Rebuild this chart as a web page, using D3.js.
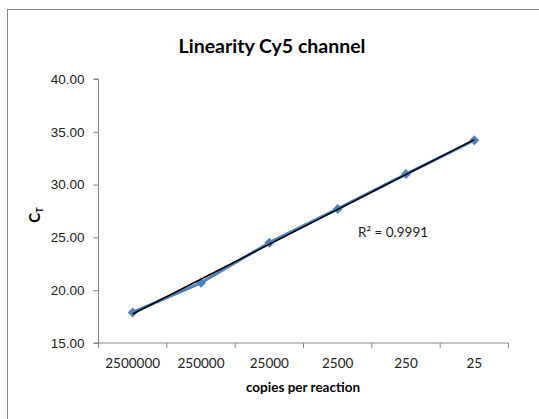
<!DOCTYPE html>
<html><head><meta charset="utf-8">
<script src="https://cdn.jsdelivr.net/npm/d3@7"></script>
<style>body{margin:0;background:#fff;} svg{display:block;font-family:Lato,"Open Sans",sans-serif;}</style>
</head><body>
<script>
const categories = ["2500000","250000","25000","2500","250","25"];
const ctValues = [17.9, 20.7, 24.5, 27.7, 31.0, 34.2];
const yTicks = [15, 20, 25, 30, 35, 40];
const r2Label = "R² = 0.9991";
const titleText = "Linearity Cy5 channel";
const xTitle = "copies per reaction";

(function(){
const W = 539, H = 419;
const svg = d3.select("body").append("svg").attr("width", W).attr("height", H);

svg.append("rect").attr("x", 7.5).attr("y", 9.5).attr("width", 600).attr("height", 500)
  .attr("fill", "#fff").attr("stroke", "#868686").attr("stroke-width", 1);

const pL = 98.5, pR = 508.5, pT = 79, pB = 343;
const x = d3.scaleBand().domain(categories).range([pL, pR]).padding(0);
const y = d3.scaleLinear().domain([15, 40]).range([pB, pT]);

// y axis
const yAxis = d3.axisLeft(y).tickValues(yTicks).tickSize(5).tickFormat(d3.format(".2f"));
const gy = svg.append("g").attr("transform", `translate(${pL},0)`).call(yAxis);
gy.select(".domain").attr("stroke", "#868686").attr("d", `M-5,${pT}H0V${pB}H-5`);
gy.selectAll(".tick line").attr("stroke", "#868686");
gy.selectAll(".tick text").attr("font-size", 13.5).attr("fill", "#222").attr("x", -14);

// x axis
const gx = svg.append("g").attr("transform", `translate(0,${pB})`);
gx.append("line").attr("x1", pL).attr("x2", pR).attr("stroke", "#868686");
const edges = categories.map(c => x(c)).concat([x(categories[categories.length-1]) + x.bandwidth()]);
gx.selectAll("line.tk").data(edges).join("line").attr("class","tk")
  .attr("x1", d => d).attr("x2", d => d).attr("y1", 0).attr("y2", 5).attr("stroke", "#868686");
gx.selectAll("text").data(categories).join("text")
  .attr("x", d => x(d) + x.bandwidth()/2).attr("y", 25)
  .attr("text-anchor", "middle").attr("font-size", 13.5).attr("fill", "#222").text(d => d);

// series line
const cx = i => x(categories[i]) + x.bandwidth()/2;
const line = d3.line().x((d,i) => cx(i)).y(d => y(d));
svg.append("path").datum(ctValues).attr("d", line).attr("fill", "none")
  .attr("stroke", "#4F81BD").attr("stroke-width", 3).attr("stroke-linejoin", "round");
svg.selectAll("path.mk").data(ctValues).join("path").attr("class","mk")
  .attr("transform", (d,i) => `translate(${cx(i)},${y(d)}) rotate(45)`)
  .attr("d", d3.symbol().type(d3.symbolSquare).size(50)).attr("fill", "#4F81BD");

// linear trendline (least squares on category index)
const n = ctValues.length;
const xs = ctValues.map((d,i) => i+1);
const mx = d3.mean(xs), my = d3.mean(ctValues);
const slope = d3.sum(xs.map((xi,i) => (xi-mx)*(ctValues[i]-my))) / d3.sum(xs.map(xi => (xi-mx)**2));
const icpt = my - slope*mx;
svg.append("line")
  .attr("x1", cx(0)).attr("y1", y(icpt + slope*1))
  .attr("x2", cx(n-1)).attr("y2", y(icpt + slope*n))
  .attr("stroke", "#000").attr("stroke-width", 1.6);

svg.append("text").attr("x", 358).attr("y", 237).attr("font-size", 13.5).attr("fill", "#222").text(r2Label);

// titles
svg.append("text").attr("x", 272).attr("y", 53).attr("text-anchor", "middle")
  .attr("font-size", 19.5).attr("font-weight", "bold").attr("fill", "#000").text(titleText);
svg.append("text").attr("x", 303).attr("y", 392).attr("text-anchor", "middle")
  .attr("font-size", 13.5).attr("font-weight", "bold").attr("fill", "#000").text(xTitle);
const yt = svg.append("text").attr("transform", "translate(40,215) rotate(-90)")
  .attr("text-anchor", "middle").attr("font-size", 15).attr("font-weight", "bold").attr("fill", "#000");
yt.append("tspan").text("C");
yt.append("tspan").attr("font-size", 9).attr("dy", 3).text("T");
})();
</script>
</body></html>
